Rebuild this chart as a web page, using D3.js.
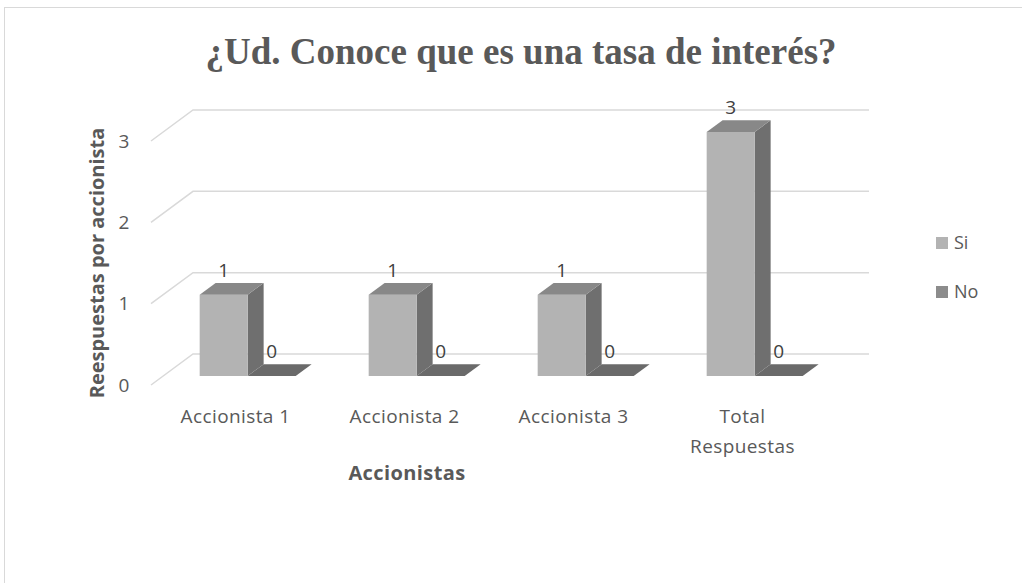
<!DOCTYPE html>
<html><head><meta charset="utf-8">
<script src="https://cdn.jsdelivr.net/npm/d3@7"></script>
<style>body{margin:0;background:#fff}svg{display:block}</style>
</head><body>
<svg id="c" width="1022" height="583"></svg>
<script>
const categories = [["Accionista 1"], ["Accionista 2"], ["Accionista 3"], ["Total", "Respuestas"]];
const series = ["Si", "No"];
const siValues = [1, 1, 1, 3];
const noValues = [0, 0, 0, 0];
const yTicks = [0, 1, 2, 3];
const title = "¿Ud. Conoce que es una tasa de interés?";
const xTitle = "Accionistas";
const yTitle = "Reespuestas por accionista";

const svg = d3.select("#c");
const font = "'Open Sans','Noto Sans',sans-serif";
const txt = "#595959";

// chart border
svg.append("rect").attr("x", 4.5).attr("y", 7.5).attr("width", 1030).attr("height", 590)
  .attr("fill", "#fff").attr("stroke", "#d9d9d9");

// 3D geometry
const depthDX = 42, depthDY = -31;
const barD0 = 0.29, barD1 = 0.67;
const catKeys = categories.map(c => c.join(" "));
const x0 = d3.scaleBand().domain(catKeys).range([151, 827]).padding(0);
const x1 = d3.scaleBand().domain(series).range([0, x0.bandwidth()]).paddingInner(0).paddingOuter(0.76);
const y = d3.scaleLinear().domain([0, 3]).range([385, 141]);
const pt = (x, yy, d) => [x + depthDX * d, yy + depthDY * d];

// gridlines: floor diagonal + back wall
const gl = svg.append("g");
yTicks.forEach(t => {
  const a = pt(x0.range()[0], y(t), 0), b = pt(x0.range()[0], y(t), 1), c = pt(x0.range()[1], y(t), 1);
  gl.append("polyline").attr("points", [a, b, c].map(p => p.join(",")).join(" "))
    .attr("fill", "none").attr("stroke", "#d9d9d9").attr("stroke-width", 1.5);
});

// tick labels
svg.append("g").selectAll("text").data(yTicks).join("text")
  .attr("x", 124).attr("y", d => y(d)).attr("dy", "0.35em")
  .attr("text-anchor", "middle").attr("font-family", font).attr("font-size", 19).attr("fill", txt)
  .text(d => d);

// bars
const colors = {
  Si: { front: "#b3b3b3", top: "#888888", side: "#6f6f6f" },
  No: { front: "#7f7f7f", top: "#6a6a6a", side: "#555555" }
};
const poly = (g, pts, fill) => g.append("polygon").attr("points", pts.map(p => p.join(",")).join(" ")).attr("fill", fill);

const barsG = svg.append("g");
const labels = [];
catKeys.forEach((k, i) => {
  const vals = { Si: siValues[i], No: noValues[i] };
  series.forEach(s => {
    const v = vals[s];
    const xl = x0(k) + x1(s), xr = xl + x1.bandwidth();
    const yb = y(0), yt = y(v);
    const c = colors[s];
    const g = barsG.append("g");
    const fbl = pt(xl, yb, barD0), fbr = pt(xr, yb, barD0), ftl = pt(xl, yt, barD0), ftr = pt(xr, yt, barD0);
    const bbr = pt(xr, yb, barD1), btl = pt(xl, yt, barD1), btr = pt(xr, yt, barD1);
    if (v > 0) {
      poly(g, [fbr, bbr, btr, ftr], c.side);
      poly(g, [fbl, fbr, ftr, ftl], c.front);
    }
    poly(g, [ftl, ftr, btr, btl], c.top);
    labels.push({ x: (ftl[0] + ftr[0]) / 2, y: btl[1] - 13, v });
  });
});

svg.append("g").selectAll("text").data(labels).join("text")
  .attr("x", d => d.x).attr("y", d => d.y).attr("dy", "0.35em")
  .attr("text-anchor", "middle").attr("font-family", font).attr("font-size", 19).attr("fill", "#404040")
  .text(d => d.v);

// category labels
const catG = svg.append("g");
categories.forEach((c, i) => {
  const cx = x0(catKeys[i]) + x0.bandwidth() / 2;
  const t = catG.append("text").attr("x", cx).attr("y", 423)
    .attr("text-anchor", "middle").attr("font-family", font).attr("font-size", 19)
    .attr("letter-spacing", 0.4).attr("fill", txt);
  c.forEach((line, j) => t.append("tspan").attr("x", cx).attr("dy", j ? 30 : 0).text(line));
});

// axis titles
svg.append("text").attr("x", 407).attr("y", 480).attr("text-anchor", "middle")
  .attr("font-family", font).attr("font-size", 20).attr("font-weight", "bold").attr("letter-spacing", 0.4)
  .attr("fill", txt).text(xTitle);
svg.append("text").attr("transform", "translate(104,263) rotate(-90)").attr("text-anchor", "middle")
  .attr("font-family", font).attr("font-size", 20).attr("font-weight", "bold").attr("fill", txt).text(yTitle);

// title
svg.append("text").attr("x", 521).attr("y", 64).attr("text-anchor", "middle")
  .attr("font-family", "'Liberation Serif','Times New Roman',serif").attr("font-size", 37)
  .attr("font-weight", "bold").attr("fill", txt).text(title);

// legend
const lg = svg.append("g").selectAll("g").data(series).join("g")
  .attr("transform", (d, i) => `translate(936,${237 + i * 49})`);
lg.append("rect").attr("width", 12).attr("height", 12).attr("fill", d => d === "Si" ? "#b3b3b3" : "#8c8c8c");
lg.append("text").attr("x", 18).attr("y", 6).attr("dy", "0.35em").attr("font-family", font)
  .attr("font-size", 18).attr("fill", txt).text(d => d);
</script>
</body></html>
